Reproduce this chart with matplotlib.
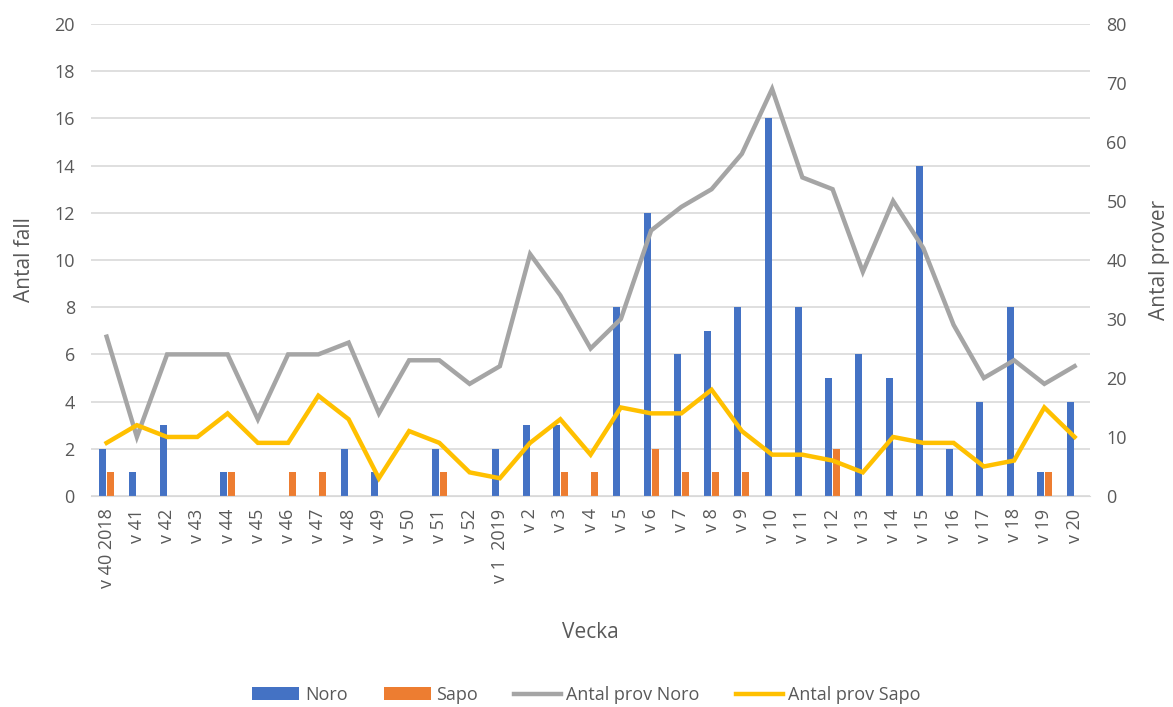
"""Noro/Sapo cases and number of samples per week."""

import matplotlib.pyplot as plt
import numpy as np

plt.rcParams["font.family"] = ["Open Sans", "DejaVu Sans"]

weeks = ["v 40 2018", "v 41", "v 42", "v 43", "v 44", "v 45", "v 46", "v 47",
         "v 48", "v 49", "v 50", "v 51", "v 52", "v 1  2019", "v 2", "v 3",
         "v 4", "v 5", "v 6", "v 7", "v 8", "v 9", "v 10", "v 11", "v 12",
         "v 13", "v 14", "v 15", "v 16", "v 17", "v 18", "v 19", "v 20"]

noro = [2, 1, 3, 0, 1, 0, 0, 0, 2, 1, 0, 2, 0, 2, 3, 3, 0, 8, 12, 6, 7, 8,
        16, 8, 5, 6, 5, 14, 2, 4, 8, 1, 4]
sapo = [1, 0, 0, 0, 1, 0, 1, 1, 0, 0, 0, 1, 0, 0, 0, 1, 1, 0, 2, 1, 1, 1,
        0, 0, 2, 0, 0, 0, 0, 0, 0, 1, 0]
prov_noro = [27, 10, 24, 24, 24, 13, 24, 24, 26, 14, 23, 23, 19, 22, 41, 34,
             25, 30, 45, 49, 52, 58, 69, 54, 52, 38, 50, 42, 29, 20, 23, 19, 22]
prov_sapo = [9, 12, 10, 10, 14, 9, 9, 17, 13, 3, 11, 9, 4, 3, 9, 13, 7, 15,
             14, 14, 18, 11, 7, 7, 6, 4, 10, 9, 9, 5, 6, 15, 10]

TXT = "#595959"
x = np.arange(len(weeks))

fig = plt.figure(figsize=(11.73, 7.07), dpi=100)
ax = fig.add_axes([0.078, 0.2985, 0.851, 0.6675])
ax2 = ax.twinx()

w = 0.23
ax.bar(x - 0.13, noro, width=w, color="#4472C4", label="Noro", zorder=2)
ax.bar(x + 0.13, sapo, width=w, color="#ED7D31", label="Sapo", zorder=2)
ax2.plot(x, prov_noro, color="#A5A5A5", linewidth=3.2, label="Antal prov Noro",
         solid_joinstyle="miter")
ax2.plot(x, prov_sapo, color="#FFC000", linewidth=3.2, label="Antal prov Sapo",
         solid_joinstyle="miter")

ax.set_xlim(-0.5, len(weeks) - 0.5)
ax.set_ylim(0, 20)
ax.set_yticks(range(0, 21, 2))
ax2.set_ylim(0, 80)
ax2.set_yticks(range(0, 81, 10))

ax.grid(axis="y", color="#D9D9D9", linewidth=1.2, zorder=0)
ax.set_axisbelow(True)

for a in (ax, ax2):
    for s in a.spines.values():
        s.set_visible(False)
    a.tick_params(length=0, colors=TXT, labelsize=13)
ax.tick_params(axis="y", pad=12)
ax2.tick_params(axis="y", pad=12)
ax.spines["bottom"].set_visible(True)
ax.spines["bottom"].set_color("#D9D9D9")

ax.set_xticks(x)
ax.set_xticklabels(weeks, rotation=90, fontsize=13, color=TXT)
ax.tick_params(axis="x", pad=9)

ax.set_xlabel("Vecka", fontsize=15, color=TXT, labelpad=24)
ax.set_ylabel("Antal fall", fontsize=15, color=TXT, labelpad=14)
ax2.set_ylabel("Antal prover", fontsize=15, color=TXT, labelpad=16)

h1, l1 = ax.get_legend_handles_labels()
h2, l2 = ax2.get_legend_handles_labels()
fig.legend(h1 + h2, l1 + l2, loc="center", bbox_to_anchor=(0.5, 0.017),
           ncol=4, frameon=False, fontsize=13, labelcolor=TXT,
           handlelength=2.6, columnspacing=2.0, handletextpad=0.3)

plt.savefig("out.png", dpi=100)
